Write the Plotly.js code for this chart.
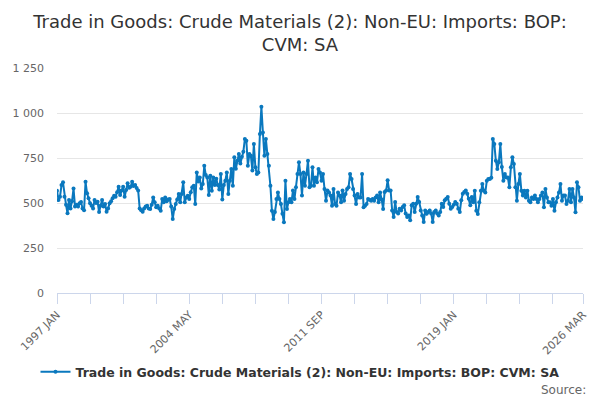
<!DOCTYPE html>
<html>
<head>
<meta charset="utf-8">
<script src="https://cdn.plot.ly/plotly-3.0.1.min.js"></script>
<style>
  html, body { margin: 0; padding: 0; background: #fff; }
  #chart { width: 600px; height: 400px; }
</style>
</head>
<body>
<div id="chart"></div>
<script>
// monthly values, 1997 JAN .. 2026 MAR
const v1997 = [568, 517, 535, 600, 615, 535, 490, 443, 517, 470, 510, 580];
const v1998 = [480, 490, 480, 498, 505, 470, 460, 618, 554, 526, 498, 485];
const v1999 = [470, 517, 500, 507, 450, 485, 517, 480, 495, 452, 470, 498];
const v2000 = [510, 526, 540, 535, 560, 590, 545, 570, 590, 535, 572, 610];
const v2001 = [585, 590, 618, 595, 600, 583, 570, 470, 460, 452, 470, 480];
const v2002 = [485, 470, 466, 490, 531, 504, 476, 485, 470, 457, 522, 504];
const v2003 = [531, 510, 520, 522, 480, 411, 466, 494, 520, 550, 504, 550];
const v2004 = [615, 504, 531, 540, 522, 560, 587, 596, 494, 670, 620, 642];
const v2005 = [580, 605, 707, 655, 642, 545, 652, 568, 642, 600, 635, 600];
const v2006 = [575, 661, 520, 600, 624, 670, 550, 624, 689, 596, 754, 690];
const v2007 = [735, 772, 720, 757, 785, 855, 846, 707, 772, 763, 680, 828];
const v2008 = [698, 661, 670, 883, 1035, 892, 763, 855, 772, 707, 596, 457];
const v2009 = [411, 450, 522, 559, 522, 494, 440, 393, 624, 467, 504, 522];
const v2010 = [504, 569, 522, 587, 661, 726, 661, 541, 670, 596, 661, 735];
const v2011 = [587, 596, 698, 596, 642, 615, 689, 670, 624, 661, 578, 513];
const v2012 = [569, 559, 541, 485, 578, 494, 485, 559, 541, 504, 569, 513];
const v2013 = [550, 578, 587, 661, 633, 578, 541, 494, 550, 531, 531, 661];
const v2014 = [476, 485, 494, 522, 518, 513, 522, 513, 530, 541, 504, 559];
const v2015 = [520, 467, 561, 569, 626, 570, 570, 459, 422, 506, 450, 441];
const v2016 = [468, 459, 478, 487, 441, 422, 430, 404, 487, 496, 450, 496];
const v2017 = [533, 506, 459, 431, 394, 459, 440, 450, 459, 441, 394, 450];
const v2018 = [459, 441, 431, 450, 496, 478, 515, 524, 533, 496, 468, 478];
const v2019 = [490, 506, 496, 468, 450, 515, 552, 561, 570, 552, 524, 487];
const v2020 = [533, 504, 568, 457, 439, 504, 568, 605, 568, 559, 624, 633];
const v2021 = [633, 640, 856, 828, 735, 689, 726, 828, 700, 624, 661, 642];
const v2022 = [642, 587, 698, 754, 717, 587, 513, 605, 661, 568, 541, 568];
const v2023 = [531, 568, 513, 504, 531, 522, 541, 522, 504, 522, 541, 559];
const v2024 = [476, 578, 531, 504, 504, 485, 522, 457, 504, 531, 559, 605];
const v2025 = [513, 541, 541, 494, 513, 578, 504, 578, 531, 448, 615, 587];
const v2026 = [513, 531, 522];

const values = [].concat(v1997, v1998, v1999, v2000, v2001, v2002, v2003, v2004,
  v2005, v2006, v2007, v2008, v2009, v2010, v2011, v2012, v2013, v2014, v2015,
  v2016, v2017, v2018, v2019, v2020, v2021, v2022, v2023, v2024, v2025, v2026);

const monthNames = ['JAN', 'FEB', 'MAR', 'APR', 'MAY', 'JUN', 'JUL', 'AUG', 'SEP', 'OCT', 'NOV', 'DEC'];
const firstYear = 1997;
const months = values.map((_, i) => (firstYear + Math.floor(i / 12)) + ' ' + monthNames[i % 12]);
const idx = values.map((_, i) => i);

const labelledTicks = [0, 88, 176, 264, 350];
const tickVals = [0, 22, 44, 66, 88, 110, 132, 154, 176, 198, 220, 242, 264, 286, 308, 330, 350];
const tickText = tickVals.map(t => labelledTicks.includes(t) ? months[t] : '');

const seriesName = 'Trade in Goods: Crude Materials (2): Non-EU: Imports: BOP: CVM: SA';
const lineColor = '#0a78be';

const trace = {
  x: idx,
  y: values,
  text: months,
  type: 'scatter',
  mode: 'lines+markers',
  name: seriesName,
  line: { color: lineColor, width: 2 },
  marker: { color: lineColor, size: 4 },
  hovertemplate: '%{text}: %{y}<extra></extra>'
};

const layout = {
  width: 600,
  height: 400,
  margin: { l: 57, r: 17, t: 68, b: 107 },
  paper_bgcolor: '#fff',
  plot_bgcolor: '#fff',
  separators: '. ',
  font: { family: 'DejaVu Sans, sans-serif', color: '#666' },
  title: {
    text: 'Trade in Goods: Crude Materials (2): Non-EU: Imports: BOP:<br>CVM: SA',
    font: { size: 18, color: '#333', family: 'DejaVu Sans, sans-serif' },
    x: 0.5, xanchor: 'center',
    y: 0.93, yanchor: 'middle', yref: 'container'
  },
  xaxis: {
    range: [0, 350],
    tickmode: 'array',
    tickvals: tickVals,
    ticktext: tickText,
    tickangle: -45,
    ticks: 'outside',
    ticklen: 10,
    tickcolor: '#ccd6eb',
    showline: true,
    linecolor: '#ccd6eb',
    showgrid: false,
    zeroline: false,
    tickfont: { size: 11, color: '#666' },
    fixedrange: true
  },
  yaxis: {
    range: [0, 1250],
    tickvals: [0, 250, 500, 750, 1000, 1250],
    tickformat: ',d',
    gridcolor: '#e6e6e6',
    showline: false,
    zeroline: false,
    ticks: '',
    ticklabelstandoff: 12,
    tickfont: { size: 11, color: '#666' },
    fixedrange: true
  },
  showlegend: true,
  legend: {
    orientation: 'h',
    x: 0.5, xanchor: 'center', xref: 'container',
    y: 0.07, yanchor: 'middle', yref: 'container',
    font: { size: 12.5, color: '#333', weight: 'bold' }
  },
  annotations: [{
    text: 'Source:',
    xref: 'paper', yref: 'paper',
    x: 1.01, xanchor: 'right',
    y: -0.43, yanchor: 'middle',
    showarrow: false,
    font: { size: 12, color: '#666' }
  }]
};

Plotly.newPlot('chart', [trace], layout, { displayModeBar: false, staticPlot: true });
</script>
</body>
</html>
